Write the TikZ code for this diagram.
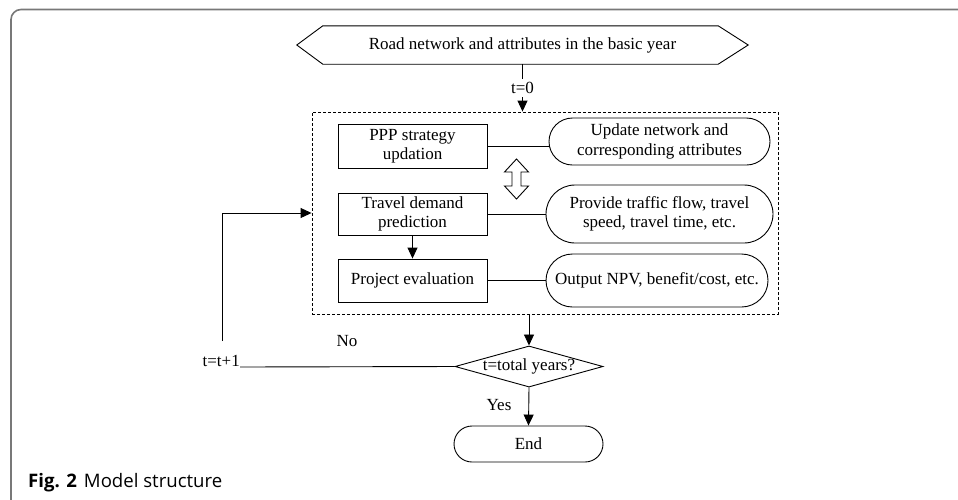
\documentclass[tikz,border=0pt]{standalone}
\usepackage{fontspec}
\setmainfont{Liberation Serif}
\newfontfamily\capfont{Open Sans}
\usetikzlibrary{shapes.geometric,shapes.misc,arrows.meta}
\definecolor{framegray}{RGB}{120,120,120}
\tikzset{
  txt/.style={font=\fontsize{17}{19.5}\selectfont, align=center, inner sep=0pt},
  boxnode/.style={txt, draw, rectangle, line width=0.9pt},
  pill/.style={txt, draw, rounded rectangle, line width=0.9pt},
  ln/.style={line width=0.9pt},
  tri/.style={ln, -{Triangle[length=11pt,width=10pt]}},
}
\begin{document}
\begin{tikzpicture}[x=1pt,y=-1pt]
\useasboundingbox (0,0) rectangle (958,499);
% outer frame
\draw[framegray, line width=1.6pt, rounded corners=10pt] (960,9.5) -| (11,502);
% hexagon
\node[txt, minimum width=451pt, minimum height=38pt] (hex) at (522.5,45) {Road network and attributes in the basic year};
\draw[ln] (hex.west) -- ([xshift=26pt]hex.north west) -- ([xshift=-30pt]hex.north east) -- (hex.east) -- ([xshift=-30pt]hex.south east) -- ([xshift=26pt]hex.south west) -- cycle;
% dashed box
\node[draw, dash pattern=on 3pt off 2pt, line width=0.9pt, minimum width=466pt, minimum height=202pt, inner sep=0pt] (dash) at (545,213) {};
\draw[tri] (hex.south) -- node[txt, fill=white, inner sep=3pt] (t0) {t=0} (dash.north -| hex.south);
% inner nodes
\node[boxnode, minimum width=149pt, minimum height=44pt] (ppp) at (412.5,146) {PPP strategy\\updation};
\node[pill, minimum width=221pt, minimum height=47pt] (upd) at (659.5,141.5) {Update network and\\corresponding attributes};
\draw[ln] (ppp.east) -- (ppp.east -| upd.west);
% hollow double arrow
\coordinate (dbl) at (516.5,179);
\draw[ln] ([yshift=-20pt]dbl) -- ([xshift=12pt,yshift=-7pt]dbl) -- ([xshift=4.5pt,yshift=-7pt]dbl)
  -- ([xshift=4.5pt,yshift=7pt]dbl) -- ([xshift=12pt,yshift=7pt]dbl) -- ([yshift=20pt]dbl)
  -- ([xshift=-12pt,yshift=7pt]dbl) -- ([xshift=-4.5pt,yshift=7pt]dbl) -- ([xshift=-4.5pt,yshift=-7pt]dbl)
  -- ([xshift=-12pt,yshift=-7pt]dbl) -- cycle;
\node[boxnode, minimum width=149pt, minimum height=42pt] (td) at (412.5,214) {Travel demand\\prediction};
\node[pill, minimum width=227pt, minimum height=58pt] (prov) at (659.5,214) {Provide traffic flow, travel\\speed, travel time, etc.};
\draw[ln] (td.east) -- (td.east -| prov.west);
\node[boxnode, minimum width=149pt, minimum height=43pt] (pe) at (412.5,280.5) {Project evaluation};
\node[pill, minimum width=222pt, minimum height=53pt] (out) at (657,280.5) {Output NPV, benefit/cost, etc.};
\draw[ln] (pe.east) -- (pe.east -| out.west);
\draw[tri] (td.south) -- (pe.north);
% decision
\node[txt, draw, diamond, aspect=3.6, minimum width=148pt, minimum height=41pt, line width=0.9pt] (dia) at (529,366.5) {t=total years?};
\draw[tri] (dia.north |- dash.south) -- (dia.north);
\node[pill, minimum width=149pt, minimum height=36pt] (endn) at (528.5,444) {End};
\draw[tri] (dia.south) -- (endn.north);
\node[txt] (yes) at (499,405) {Yes};
\node[txt] (no) at (347,341) {No};
% loop
\node[txt, anchor=south east] (ttl) at (240,367) {t=t+1};
\coordinate (up) at (222,341);
\draw[ln] (dia.west) -- (ttl.south east);
\draw[tri] (up) |- (dash.west);
% caption
\node[anchor=base west, inner sep=0pt, font=\capfont\fontsize{18.6}{21}\selectfont] (cap) at (28,487) {\textbf{Fig. 2}\hspace{7pt}Model structure};
\end{tikzpicture}
\end{document}
